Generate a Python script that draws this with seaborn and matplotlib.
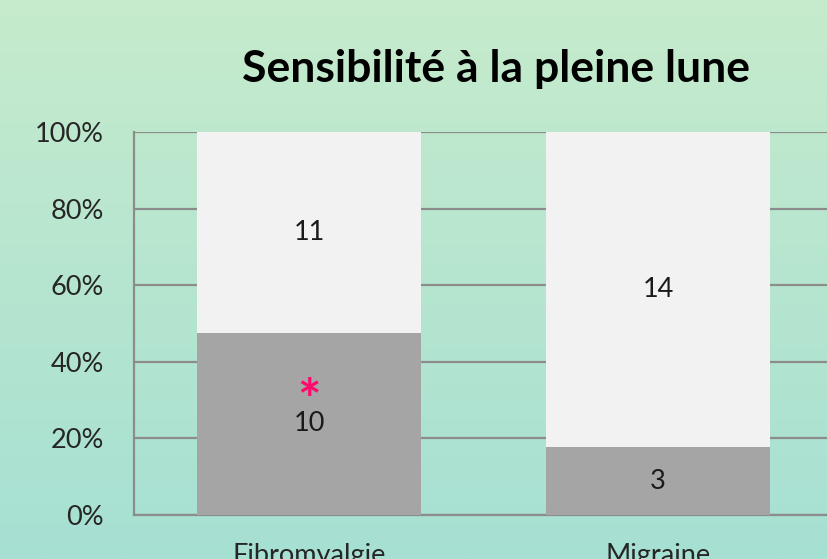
import numpy as np
import pandas as pd
import matplotlib
matplotlib.use("Agg")
import matplotlib.pyplot as plt
import seaborn as sns
from matplotlib.colors import LinearSegmentedColormap

# Data
categories = ["Fibromyalgie", "Migraine"]
sensibles = [10, 3]
non_sensibles = [11, 14]

totals = np.array(sensibles) + np.array(non_sensibles)
df = pd.DataFrame({
    "groupe": categories,
    "total": [100.0, 100.0],
    "oui": np.array(sensibles) / totals * 100,
})

sns.set_style("white")
plt.rcParams["font.family"] = ["Lato", "DejaVu Sans"]
plt.rcParams["ytick.major.size"] = 0
plt.rcParams["xtick.major.size"] = 0

fig = plt.figure(figsize=(8.28, 5.59), dpi=100)

# gradient background
bg = fig.add_axes([0, 0, 1, 1], zorder=-10)
grad = np.linspace(0, 1, 256).reshape(-1, 1)
cmap = LinearSegmentedColormap.from_list("bg", ["#c6ebcc", "#a6e0d3"])
bg.imshow(grad, aspect="auto", cmap=cmap, extent=[0, 1, 0, 1], origin="upper")
bg.axis("off")

ax = fig.add_axes([134.5 / 828, 44 / 559, 698 / 828, 383 / 559])
ax.patch.set_alpha(0)

sns.barplot(data=df, x="groupe", y="total", color="#f2f2f2", width=0.64,
            saturation=1, linewidth=0, ax=ax, zorder=3)
sns.barplot(data=df, x="groupe", y="oui", color="#a5a5a5", width=0.64,
            saturation=1, linewidth=0, ax=ax, zorder=3)

ax.set_ylim(0, 100)
ax.set_xlim(-0.5, 1.5)
ax.set_yticks(range(0, 101, 20))
ax.set_yticklabels([f"{v}%" for v in range(0, 101, 20)], fontsize=19.5)
ax.yaxis.set_ticks_position("none")
ax.xaxis.set_ticks_position("none")
ax.tick_params(axis="y", pad=22)
ax.tick_params(axis="x", pad=20, labelsize=19.5)
ax.set_xlabel("")
ax.set_ylabel("")
ax.yaxis.grid(True, color="#8c8c8c", linewidth=1.6, zorder=1)
ax.set_axisbelow(True)
for s in ["top", "right"]:
    ax.spines[s].set_visible(False)
ax.spines["left"].set_color("#8c8c8c")
ax.spines["left"].set_linewidth(1.6)
ax.spines["bottom"].set_color("#8c8c8c")
ax.spines["bottom"].set_linewidth(1.6)

# value labels
for i in range(len(categories)):
    oui = df["oui"][i]
    ax.text(i, oui / 2, str(sensibles[i]), ha="center", va="center",
            fontsize=19.5, color="#1a1a1a", zorder=5)
    ax.text(i, oui + (100 - oui) / 2, str(non_sensibles[i]), ha="center",
            va="center", fontsize=19.5, color="#1a1a1a", zorder=5)

# significance mark
ax.text(0, df["oui"][0] / 2 + 5.5, "*", ha="center", va="center",
        fontsize=40, fontweight="bold", color="#ff0a6c", zorder=5)

fig.text(496 / 828, 1 - 69 / 559, "Sensibilité à la pleine lune", ha="center",
         va="center", fontsize=32, fontweight="bold", color="black")

fig.savefig("out.png", dpi=100)
